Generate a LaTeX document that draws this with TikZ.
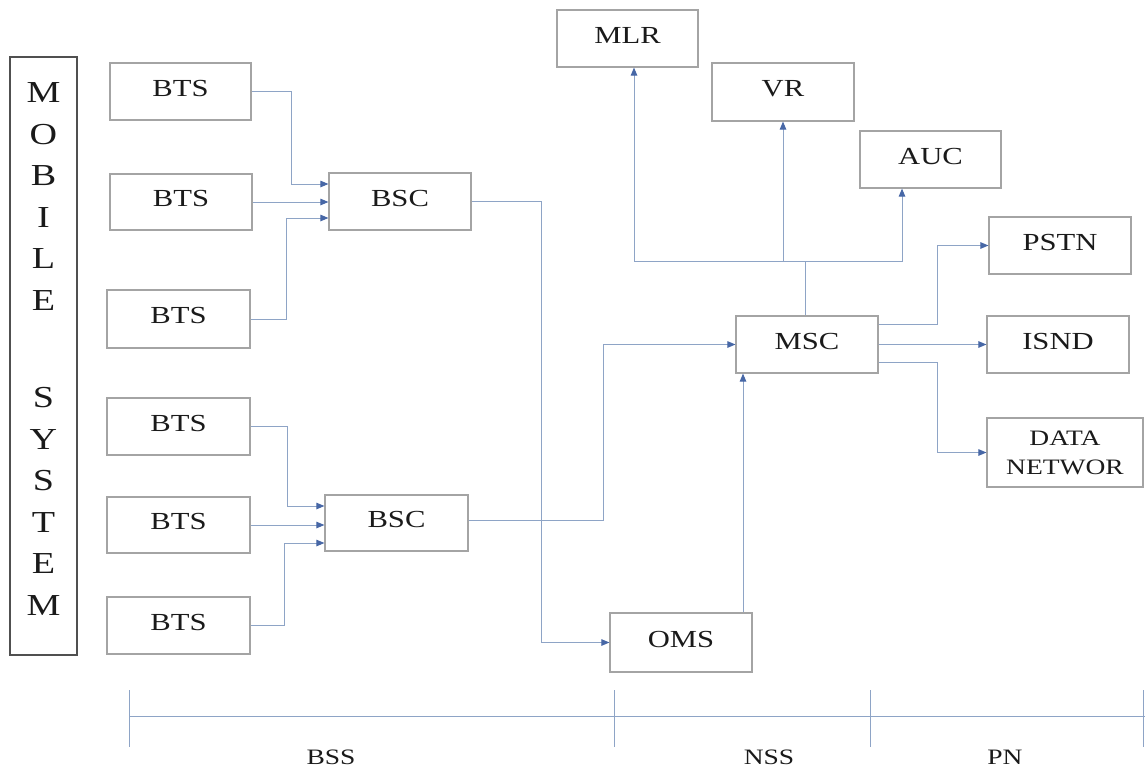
\documentclass[tikz,border=0pt]{standalone}
\usepackage{fontspec}
\setmainfont{Liberation Serif}[FakeStretch=1.25]
\usetikzlibrary{arrows.meta,calc}
\definecolor{boxgray}{HTML}{A4A4A4}
\definecolor{linecol}{HTML}{8EA4C6}
\definecolor{arrowcol}{HTML}{4767A6}
\definecolor{mobcol}{HTML}{505050}
\definecolor{txtcol}{HTML}{1A1A1A}
\begin{document}
\begin{tikzpicture}[x=1pt,y=-1pt,
  blk/.style={draw=boxgray,line width=1.15pt,inner sep=0pt,text=txtcol,
    font=\fontsize{24.5}{28}\selectfont,minimum width=142pt,minimum height=57pt,
    text height=16pt,text depth=7pt},
  conn/.style={draw=linecol,line width=1pt,-{Triangle[length=8pt,width=6.5pt,color=arrowcol]}},
  plain/.style={draw=linecol,line width=1pt},
  axis/.style={draw=linecol,line width=1pt},
  lab/.style={text=txtcol,font=\fontsize{22}{26}\selectfont,inner sep=0pt}]
\useasboundingbox (0,0) rectangle (1145,769);
% Mobile system column
\node[draw=mobcol,line width=2pt,minimum width=67pt,minimum height=598pt,inner sep=0pt] (mob) at (43.5,356) {};
\node[text=txtcol,align=center,inner sep=0pt,font=\fontsize{30.5}{41.5}\selectfont] (mobtext) at (43.5,349)
  {M\\O\\B\\I\\L\\E\\[56pt]S\\Y\\S\\T\\E\\M};
% BTS boxes
\node[blk,minimum width=141pt] (btsA) at (180.5,91.5) {BTS};
\node[blk,minimum height=56pt] (btsB) at (181,202) {BTS};
\node[blk,minimum width=143pt,minimum height=58pt] (btsC) at (178.5,319) {BTS};
\node[blk,minimum width=143pt] (btsD) at (178.5,426.5) {BTS};
\node[blk,minimum width=143pt,minimum height=56pt] (btsE) at (178.5,525) {BTS};
\node[blk,minimum width=143pt] (btsF) at (178.5,625.5) {BTS};
% BSC
\node[blk] (bscA) at (400,201.5) {BSC};
\node[blk,minimum width=143pt,minimum height=56pt] (bscB) at (396.5,523) {BSC};
% NSS
\node[blk,minimum width=141pt] (mlr) at (627.5,38.5) {MLR};
\node[blk,minimum height=58pt] (vr) at (783,92) {VR};
\node[blk,minimum width=141pt] (auc) at (930.5,159.5) {AUC};
\node[blk] (msc) at (807,344.5) {MSC};
\node[blk,minimum height=59pt] (oms) at (681,642.5) {OMS};
% PN
\node[blk] (pstn) at (1060,245.5) {PSTN};
\node[blk] (isnd) at (1058,344.5) {ISND};
\node[blk,minimum width=156pt,minimum height=69pt,align=center,text height=,text depth=,
  font=\fontsize{22}{29}\selectfont] (data) at (1065,452.5) {DATA\\NETWOR};
% BTS -> BSC A
\draw[conn] (btsA.east) -| ($(bscA.west)+(-37,-17.5)$) -- ($(bscA.west)+(0,-17.5)$);
\draw[conn] (btsB.east) -- (btsB.east -| bscA.west);
\draw[conn] (btsC.east) -| ($(bscA.west)+(-42,16.5)$) -- ($(bscA.west)+(0,16.5)$);
% BTS -> BSC B
\draw[conn] (btsD.east) -| ($(bscB.west)+(-37,-17)$) -- ($(bscB.west)+(0,-17)$);
\draw[conn] (btsE.east) -- (btsE.east -| bscB.west);
\draw[conn] (btsF.east) -| ($(bscB.west)+(-40,20)$) -- ($(bscB.west)+(0,20)$);
% BSC -> OMS / MSC
\draw[conn] (bscA.east) -- ++(70,0) |- (oms.west);
\draw[conn] ($(bscB.east)+(0,-3)$) -- ++(135,0) |- (msc.west);
\coordinate (omsT) at ($(oms.north)+(62,0)$);
\draw[conn] (omsT) -- (omsT |- msc.south);
% MSC -> registers
\coordinate (jn) at ($(msc.north)+(-2,-54)$);
\draw[plain] (msc.north -| jn) -- (jn);
\draw[conn] (jn) -| ($(mlr.south)+(6.5,0)$);
\draw[conn] (jn -| vr.south) -- (vr.south);
\draw[conn] (jn) -| ($(auc.south)+(-28.5,0)$);
% MSC -> PN
\draw[conn] ($(msc.east)+(0,-20.5)$) -- ++(59,0) |- (pstn.west);
\draw[conn] (msc.east) -- (msc.east -| isnd.west);
\draw[conn] ($(msc.east)+(0,17.5)$) -- ++(59,0) |- (data.west);
% axis
\coordinate (axL) at (129,716);
\coordinate (axR) at (1145,716);
\draw[axis] (axL) -- (axR);
\draw[axis] (129,690) -- (129,747);
\draw[axis] (614,690) -- (614,747);
\draw[axis] (870,690) -- (870,747);
\draw[axis] (1143,690) -- (1143,747);
\node[lab] (bss) at (331,757) {BSS};
\node[lab] (nss) at (769,757) {NSS};
\node[lab] (pn) at (1005,757) {PN};
\end{tikzpicture}
\end{document}
